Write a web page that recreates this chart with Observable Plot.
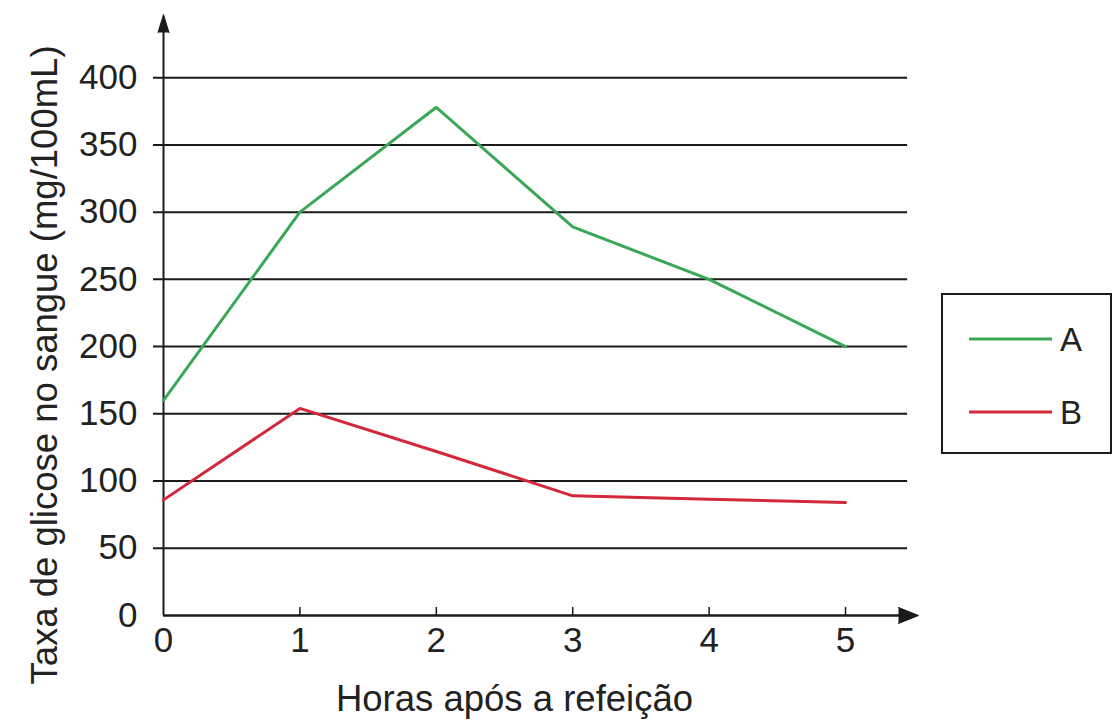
<!DOCTYPE html>
<html><head><meta charset="utf-8">
<script src="https://cdn.jsdelivr.net/npm/d3@7"></script>
<script src="https://cdn.jsdelivr.net/npm/@observablehq/plot@0.6"></script>
<style>
body{margin:0;background:#fff;}
#wrap{position:relative;width:1116px;height:721px;font-family:"Liberation Sans",Arial,Helvetica,sans-serif;}
#legend{position:absolute;left:0;top:0;}
</style></head><body><div id="wrap"></div>
<script>
const hours = [0, 1, 2, 3, 4, 5];
const serieA = [160, 300, 378, 289, 250, 200];
const serieB = [86, 154, 122, 89, 86.5, 84];
const seriesNames = ["A", "B"];
const seriesColors = ["#3aa757", "#d2283a"];
const yTicks = [0, 50, 100, 150, 200, 250, 300, 350, 400];
const xTicks = [0, 1, 2, 3, 4, 5];
const yTitle = "Taxa de glicose no sangue (mg/100mL)";
const xTitle = "Horas após a refeição";

const xMax = 5.535, yMax = 447, gridEnd = 5.455, gridStart = -0.073;
const ink = "#1a1a1a";
const fontFamily = '"Liberation Sans", Arial, Helvetica, sans-serif';

const rows = [
  ...hours.map((h, i) => ({hour: h, value: serieA[i], serie: "A"})),
  ...hours.map((h, i) => ({hour: h, value: serieB[i], serie: "B"}))
];

const chart = Plot.plot({
  width: 1116, height: 721,
  marginLeft: 163, marginRight: 198, marginTop: 14, marginBottom: 106,
  x: {domain: [0, xMax]},
  y: {domain: [0, yMax]},
  color: {domain: seriesNames, range: seriesColors},
  style: {fontFamily, fontSize: "34px", color: "#222", background: "white"},
  marks: [
    Plot.ruleY(yTicks.filter(d => d > 0), {x1: gridStart, x2: gridEnd, stroke: ink, strokeWidth: 2}),
    Plot.ruleX(xTicks.filter(d => d > 0), {y1: 0, y2: 6, stroke: ink, strokeWidth: 1.5}),
    Plot.ruleY([0], {x1: 0, x2: xMax - 0.05, stroke: ink, strokeWidth: 2.5}),
    Plot.ruleX([0], {y1: 0, y2: yMax - 5, stroke: ink, strokeWidth: 2}),
    Plot.vector([{x: 0, y: yMax}], {x: "x", y: "y", anchor: "end", shape: "spike", length: 18, r: 5.5, rotate: 0, fill: ink, fillOpacity: 1, stroke: ink, strokeWidth: 1}),
    Plot.vector([{x: xMax, y: 0}], {x: "x", y: "y", anchor: "end", shape: "spike", length: 20, r: 8, rotate: 90, fill: ink, fillOpacity: 1, stroke: ink, strokeWidth: 1}),
    Plot.line(rows, {x: "hour", y: "value", stroke: "serie", strokeWidth: 3, strokeLinejoin: "miter"}),
    Plot.axisY(yTicks, {tickSize: 0, tickPadding: 26, label: null, fontSize: 35, fill: "#222"}),
    Plot.axisX(xTicks, {tickSize: 0, tickPadding: 12, label: null, fontSize: 35, fill: "#222", tickFormat: d => String(d)}),
    Plot.text([yTitle], {text: d => d, frameAnchor: "left", textAnchor: "middle", lineAnchor: "middle", rotate: -90, dx: -118, dy: 50, fontSize: 36.5, fill: "#222"}),
    Plot.text([xTitle], {text: d => d, frameAnchor: "bottom", textAnchor: "middle", lineAnchor: "middle", dx: -26.5, dy: 84, fontSize: 36.5, fill: "#222"})
  ]
});
const wrap = document.getElementById("wrap");
wrap.appendChild(chart);

// Legend
const leg = d3.create("svg").attr("id", "legend").attr("width", 1116).attr("height", 721)
  .style("position", "absolute").style("left", "0px").style("top", "0px").style("pointer-events", "none");
leg.append("rect").attr("x", 942).attr("y", 294).attr("width", 169).attr("height", 159)
  .attr("fill", "none").attr("stroke", ink).attr("stroke-width", 2);
const legY = d3.scalePoint().domain(seriesNames).range([339, 412]);
seriesNames.forEach((n, i) => {
  leg.append("line").attr("x1", 969).attr("x2", 1052).attr("y1", legY(n)).attr("y2", legY(n))
    .attr("stroke", seriesColors[i]).attr("stroke-width", 3);
  leg.append("text").attr("x", 1060).attr("y", legY(n)).attr("dy", "0.35em")
    .attr("font-family", fontFamily).attr("font-size", 33).attr("fill", "#222").text(n);
});
wrap.appendChild(leg.node());
</script>
</body></html>
